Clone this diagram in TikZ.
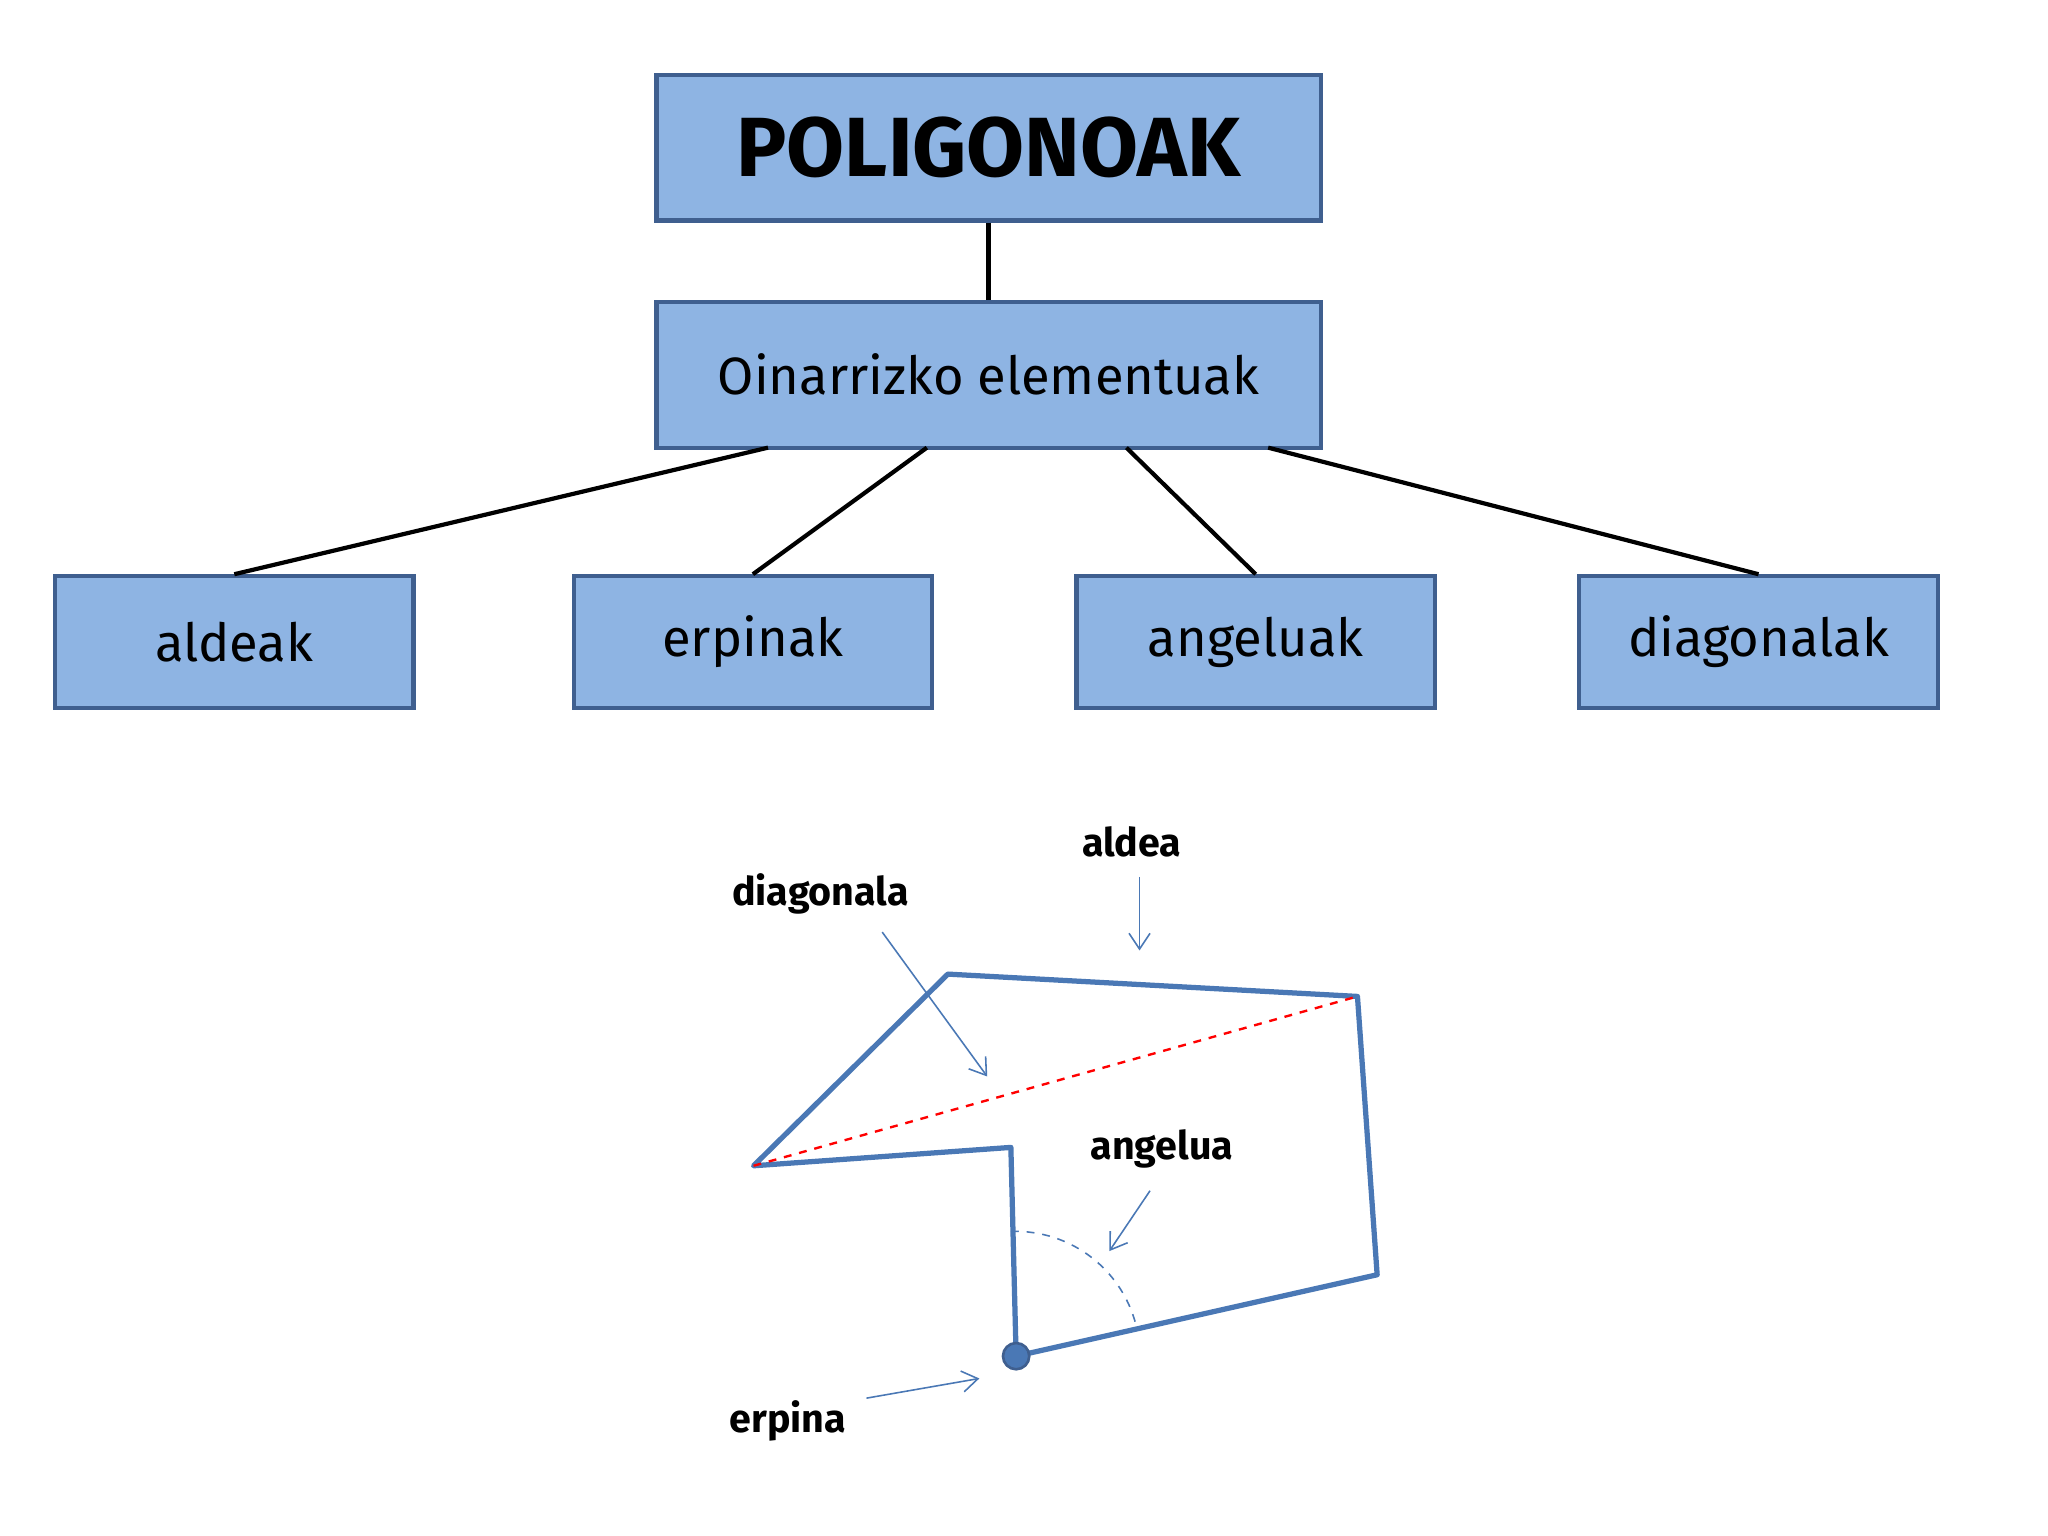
\documentclass[tikz,border=0pt]{standalone}
\usepackage{fontspec}
\setmainfont{Fira Sans}
\usetikzlibrary{arrows.meta}
\definecolor{boxfill}{HTML}{8EB4E3}
\definecolor{boxline}{HTML}{3F5F8F}
\definecolor{poly}{HTML}{4A78B5}
\tikzset{
 box/.style={draw=boxline,line width=1.6pt,fill=boxfill,minimum width=#1,minimum height=50pt,inner sep=0pt},
 link/.style={line width=1.6pt,black},
 lab/.style={font=\fontsize{15}{17}\selectfont\bfseries},
 pointer/.style={poly,line width=0.6pt,-{Straight Barb[length=6pt,width=8pt]}}
}
\begin{document}
\begin{tikzpicture}[x=0.5pt,y=-0.5pt]
\useasboundingbox (0,0) rectangle (1560,1170);
\node[box=253pt,minimum height=55.5pt,font=\fontsize{32}{36}\selectfont\bfseries] (p) at (753,112.5) {POLIGONOAK};
\node[box=253pt,minimum height=55.5pt,font=\fontsize{20}{24}\selectfont] (o) at (753,285.5) {Oinarrizko elementuak};
\node[box=136.5pt,font=\fontsize{20}{24}\selectfont] (a) at (178.5,489) {aldeak};
\node[box=136.5pt,font=\fontsize{20}{24}\selectfont] (e) at (573.5,489) {erpinak};
\node[box=136.5pt,font=\fontsize{20}{24}\selectfont] (g) at (956.5,489) {angeluak};
\node[box=136.5pt,font=\fontsize{20}{24}\selectfont] (d) at (1339.5,489) {diagonalak};
\draw[link] (p.south) -- (o.north);
\draw[link] (585,341) -- (a.north);
\draw[link] (706,341) -- (e.north);
\draw[link] (858,341) -- (g.north);
\draw[link] (966,341) -- (d.north);
% polygon
\coordinate (v1) at (722,742);
\coordinate (v2) at (1034,759);
\coordinate (v3) at (1049,971);
\coordinate (v4) at (774,1033);
\coordinate (v5) at (770,874);
\coordinate (v6) at (574,888);
\draw[poly,line width=2pt,line join=round] (v1)--(v2)--(v3)--(v4)--(v5)--(v6)--cycle;
\draw[red,dashed,line width=0.9pt] (v6)--(v2);
\draw[poly,dashed,line width=0.6pt] (770,938) arc[start angle=-92,end angle=-12,radius=95];
\fill[poly] (v4) circle[radius=10];
\draw[boxline,line width=1pt] (v4) circle[radius=10];
\node[lab] (l1) at (862,641) {aldea};
\node[lab] (l2) at (625,681) {diagonala};
\node[lab] (l3) at (885,875) {angelua};
\node[lab] (l4) at (600,1082) {erpina};
\coordinate (t1) at (868,724);
\coordinate (t2) at (752,820);
\coordinate (t3) at (845,953);
\coordinate (t4) at (746,1050);
\draw[pointer] (868,668) -- (t1);
\draw[pointer] (672,710) -- (t2);
\draw[pointer] (876,907) -- (t3);
\draw[pointer] (660,1065) -- (t4);
\end{tikzpicture}
\end{document}
